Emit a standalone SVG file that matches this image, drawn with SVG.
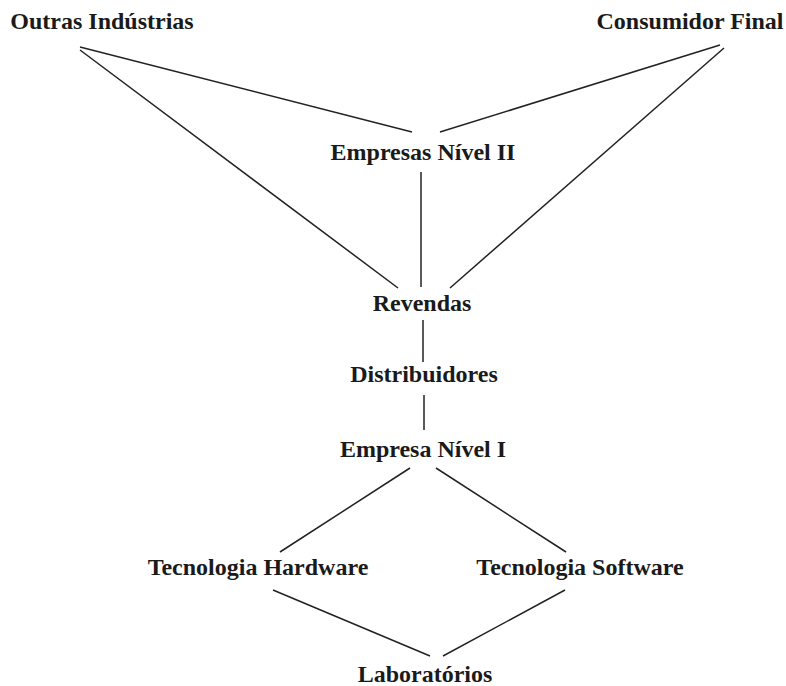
<svg xmlns="http://www.w3.org/2000/svg" width="786" height="686" viewBox="0 0 786 686">
<style>
.t{font-family:"Liberation Serif","Times New Roman",serif;font-size:24px;font-weight:bold;fill:#1a1a1a;text-anchor:middle}
.c line{stroke:#222;stroke-width:1.5}
</style>
<rect width="786" height="686" fill="#fff"/>
<g class="c">
<line x1="80" y1="47" x2="412" y2="132"/>
<line x1="80" y1="50" x2="398" y2="288"/>
<line x1="720" y1="45" x2="440" y2="132"/>
<line x1="724" y1="48" x2="450" y2="288"/>
<line x1="421" y1="172" x2="421" y2="287"/>
<line x1="423" y1="320" x2="423" y2="362"/>
<line x1="424" y1="395" x2="424" y2="430"/>
<line x1="410" y1="468" x2="280" y2="552"/>
<line x1="436" y1="468" x2="566" y2="552"/>
<line x1="273" y1="590" x2="430" y2="656"/>
<line x1="565" y1="590" x2="443" y2="656"/>
</g>
<g id="outras"><text class="t" x="102" y="29">Outras Indústrias</text></g>
<g id="consumidor"><text class="t" x="690" y="29">Consumidor Final</text></g>
<g id="empresas2"><text class="t" x="423" y="160">Empresas Nível II</text></g>
<g id="revendas"><text class="t" x="422" y="311">Revendas</text></g>
<g id="distribuidores"><text class="t" x="424" y="382">Distribuidores</text></g>
<g id="empresa1"><text class="t" x="423" y="457">Empresa Nível I</text></g>
<g id="hardware"><text class="t" x="258" y="575">Tecnologia Hardware</text></g>
<g id="software"><text class="t" x="580" y="575">Tecnologia Software</text></g>
<g id="lab"><text class="t" x="425" y="682">Laboratórios</text></g>
</svg>
